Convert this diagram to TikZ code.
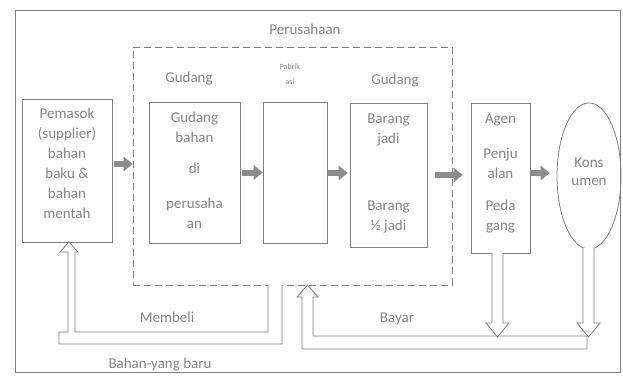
\documentclass[tikz,border=0pt]{standalone}
\usepackage{fontspec}
\setmainfont{Carlito}
\usetikzlibrary{arrows.meta,calc,shapes.geometric}
\definecolor{ln}{gray}{0.5}
\definecolor{tx}{gray}{0.52}
\definecolor{ar}{gray}{0.55}
\begin{document}
\begin{tikzpicture}[x=1pt,y=-1pt,
  box/.style={draw=ln,line width=0.8pt,inner sep=0pt},
  dbox/.style={draw=ln,line width=0.8pt,dash pattern=on 7pt off 4pt,inner sep=0pt},
  fat/.style={draw=ar,line width=6pt,-{Triangle[length=9pt,width=15pt,line width=0pt]}},
  pipe/.style={draw=ln,line width=0.8pt,fill=white,line join=miter},
  lbl/.style={text=tx,font=\fontsize{15}{20}\selectfont,align=center,anchor=base,inner sep=0pt},
  lblk/.style={text=tx,font=\fontsize{15}{18}\selectfont,align=center,anchor=base,inner sep=0pt},
  lbls/.style={text=tx,font=\fontsize{8}{15}\selectfont,align=center,anchor=base,inner sep=0pt}]
\useasboundingbox (0,0) rectangle (623,377);
% outer frame
\draw[ln,line width=0.8pt] (15,10) rectangle (620,372);
% company dashed boundary
\node[dbox,minimum width=319pt,minimum height=238pt] (perus) at (292.5,166) {};
% boxes
\node[box,minimum width=90pt,minimum height=143pt] (pem) at (67,170.5) {};
\node[box,minimum width=91pt,minimum height=141pt] (gb) at (194.5,172.5) {};
\node[box,minimum width=64pt,minimum height=141pt] (mid) at (295,172.5) {};
\node[box,minimum width=77pt,minimum height=144pt] (gj) at (388.5,175) {};
\node[box,minimum width=59pt,minimum height=150pt] (agen) at (500.5,178) {};
\node[box,ellipse,minimum width=64pt,minimum height=146pt] (kons) at (589,176) {};
% fat arrows
\draw[fat] ([xshift=2pt,yshift=6.5pt]pem.east) -- ([yshift=6.5pt]pem.east -| perus.west);
\draw[fat,shorten <=2pt] (gb.east) -- (mid.west);
\draw[fat,shorten <=1pt,shorten >=2pt] ([yshift=-0.5pt]mid.east) -- ([yshift=-0.5pt]mid.east -| gj.west);
\draw[fat,shorten <=8pt,shorten >=8pt] (gj.east) -- (gj.east -| agen.west);
\draw[fat,shorten >=7pt] ([yshift=5pt]agen.east) -- ([yshift=5pt]agen.east -| kons.west);
% hollow pipes and arrows
\draw[pipe] (282,285) -- (282,344) -- (59,344) -- (59,332) -- (68,332) -- (68,252) -- (60,252) -- (69,242) -- (78,252) -- (75,252) -- (75,332) -- (268,332) -- (268,285);
\draw[pipe] (313,297) -- (313,336) -- (587,336) -- (587,349) -- (302,349) -- (302,297) -- (297,297) -- (307.5,285) -- (318,297) -- cycle;
\draw[pipe] (492,253) -- (492,323) -- (486,323) -- (497.5,337) -- (509,323) -- (503,323) -- (503,253);
\draw[pipe] (583,248) -- (583,323) -- (577,323) -- (588.5,337) -- (600,323) -- (594,323) -- (594,248);
% texts (base anchor = baseline of the last line)
\node[lbl] (t1) at (67,218) {Pemasok\\(supplier)\\bahan\\baku \&\\bahan\\mentah};
\node[lbl] (t2) at (194.5,142) {Gudang\\bahan};
\node[lbl] (t3) at (194.5,173) {di};
\node[lbl] (t4) at (194.5,228) {perusaha\\an};
\node[lbl] (t5) at (388.5,143) {Barang\\jadi};
\node[lbl] (t6) at (388.5,230) {Barang\\½ jadi};
\node[lbl] (t7) at (500.5,123) {Agen};
\node[lbl] (t8) at (500.5,178) {Penju\\alan};
\node[lbl] (t9) at (500.5,230) {Peda\\gang};
\node[lblk] (t10) at (589,185) {Kons\\umen};
\node[lbl] (l1) at (189,83) {Gudang};
\node[lbl] (l2) at (395,85) {Gudang};
\node[lbls] (l3) at (290,85) {Pabrik\\asi};
\node[lbl] (l4) at (305,35) {Perusahaan};
\node[lbl] (l5) at (167,322) {Membeli};
\node[lbl] (l6) at (160,368) {Bahan-yang baru};
\node[lbl] (l7) at (397,322) {Bayar};
\end{tikzpicture}
\end{document}
